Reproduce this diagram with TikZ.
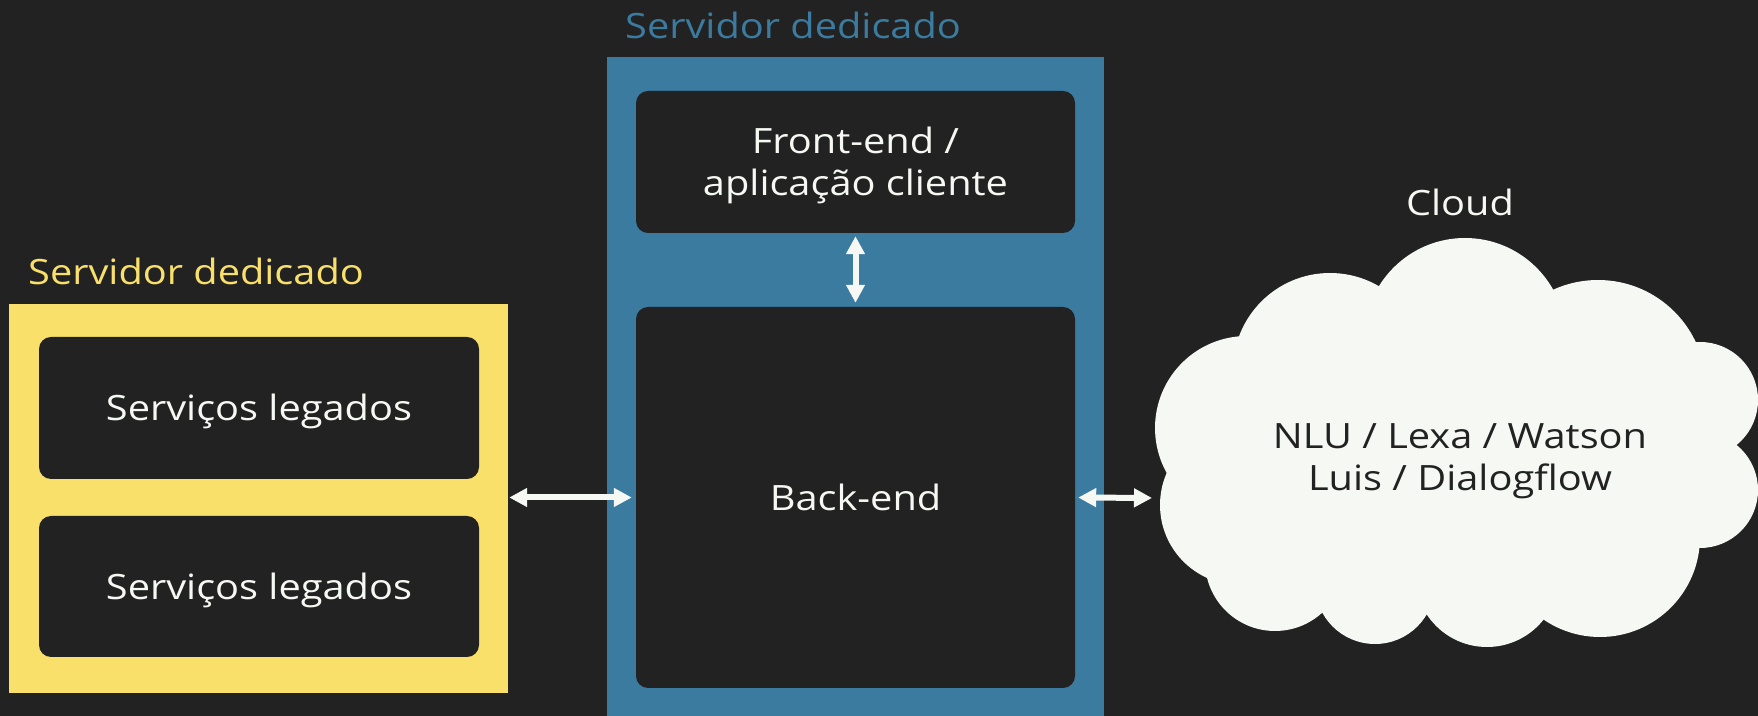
\documentclass[tikz,border=0pt]{standalone}
\usepackage{fontspec}
\setmainfont[FakeStretch=1.14]{Open Sans}
\usetikzlibrary{arrows.meta}
\definecolor{bgdark}{HTML}{222222}
\definecolor{paneyellow}{HTML}{F9E06A}
\definecolor{paneblue}{HTML}{3C7BA0}
\definecolor{offwhite}{HTML}{F6F8F3}
\tikzset{
  pane/.style={draw=none,inner sep=0pt},
  innerbox/.style={draw=none,fill=bgdark,rounded corners=12bp,inner sep=0pt,
    text=offwhite,align=center,minimum width=439bp,text height=30bp,text depth=4bp},
  twolines/.style={text height=72bp,text depth=4bp},
  dblarrow/.style={draw=offwhite,line width=6bp,
    {Triangle[length=18bp,width=18bp]}-{Triangle[length=18bp,width=18bp]}},
}
\begin{document}
\begin{tikzpicture}[line join=bevel,font=\fontsize{35}{43}\selectfont]
%%
\useasboundingbox (0bp,0bp) rectangle (1758bp,716bp);
\fill [bgdark] (0bp,0bp) rectangle (1758bp,716bp);
%
\node (node_legacy) at (258.5bp,217.5bp) [pane,fill=paneyellow,minimum width=499bp,minimum height=389bp] {};
  \node (node_server) at (855.5bp,329.5bp) [pane,fill=paneblue,minimum width=497bp,minimum height=659bp] {};
  \node (label_legacy) at (28bp,431bp) [anchor=base west,inner sep=0pt,text=paneyellow] {Servidor dedicado};
  \node (label_server) at (625bp,677bp) [anchor=base west,inner sep=0pt,text=paneblue] {Servidor dedicado};
%
\node (node_svc_a) at (259bp,308bp) [innerbox,minimum width=440bp,minimum height=142bp] {Serviços legados};
  \node (node_svc_b) at (259bp,129.5bp) [innerbox,minimum width=440bp,minimum height=141bp] {Serviços legados};
  \node (node_front) at (855.5bp,554bp) [innerbox,twolines,minimum height=142bp] {Front-end /\\aplicação cliente};
  \node (node_back) at (855.5bp,218.5bp) [innerbox,minimum height=381bp] {Back-end};
%
\fill [offwhite] (1247bp,288bp) circle[radius=92bp] (1240bp,211bp) circle[radius=80bp]
  (1275bp,155bp) circle[radius=70bp] (1375bp,132bp) circle[radius=60bp]
  (1487bp,141bp) circle[radius=72bp] (1600bp,179bp) circle[radius=100bp]
  (1700bp,226bp) circle[radius=58bp] (1700bp,316bp) circle[radius=58bp]
  (1598bp,328bp) circle[radius=108bp] (1465bp,377bp) circle[radius=101bp]
  (1330bp,346bp) circle[radius=97bp] (1460bp,266bp) ellipse[x radius=230bp,y radius=150bp];
  \node (node_cloud) at (1460bp,259bp) [inner sep=0pt,align=center,twolines,text=bgdark] {NLU / Lexa / Watson\\Luis / Dialogflow};
  \node (label_cloud) at (1460bp,500bp) [anchor=base,inner sep=0pt,text=offwhite] {Cloud};
  \coordinate (cloud_west) at (1156bp,218bp);
%
\draw [dblarrow,shorten <=1bp,shorten >=4bp] (node_legacy.east |- node_back.west) -- (node_back.west);
  \draw [dblarrow,shorten <=3bp,shorten >=4bp] (node_front.south) -- (node_back.north);
  \draw [dblarrow,shorten <=3bp,shorten >=4bp] (node_back.east) -- (cloud_west);
%
\end{tikzpicture}
\end{document}
